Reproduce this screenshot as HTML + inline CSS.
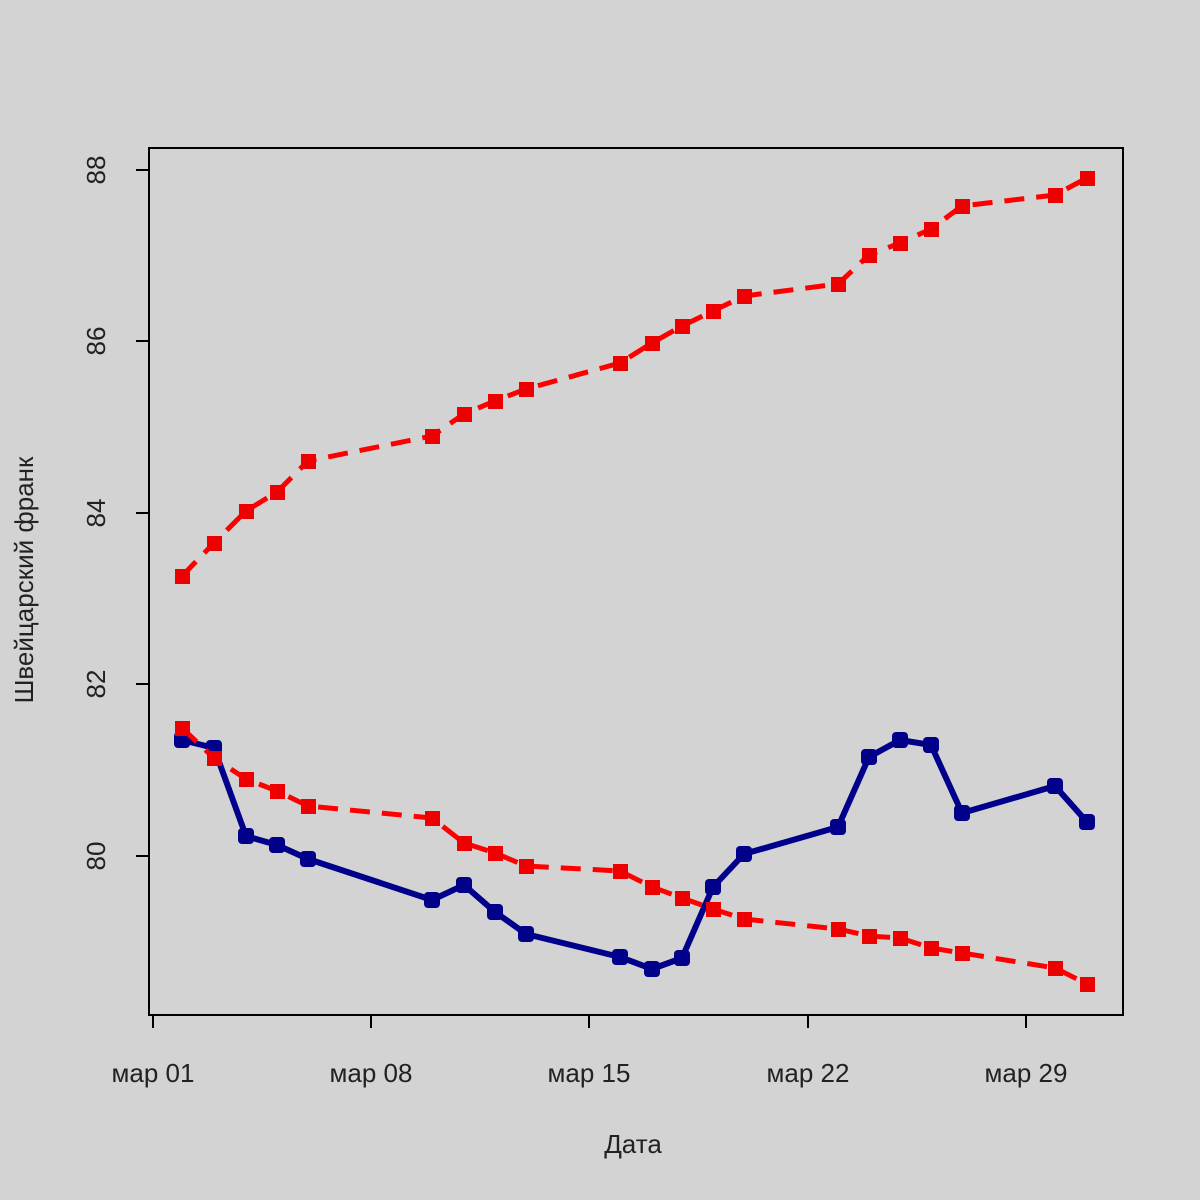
<!DOCTYPE html>
<html><head><meta charset="utf-8"><style>body{margin:0;background:#d3d3d3}svg{display:block}</style></head><body>
<svg width="1200" height="1200" xmlns="http://www.w3.org/2000/svg" font-family="Liberation Sans, sans-serif">
<rect width="1200" height="1200" fill="#d3d3d3"/>
<rect x="149" y="148" width="974" height="867" fill="none" stroke="#000" stroke-width="2"/>
<g stroke="#000" stroke-width="2">
<line x1="153" y1="1015" x2="1026" y2="1015"/>
<line x1="153" y1="1015" x2="153" y2="1028"/><line x1="371" y1="1015" x2="371" y2="1028"/><line x1="589" y1="1015" x2="589" y2="1028"/><line x1="808" y1="1015" x2="808" y2="1028"/><line x1="1026" y1="1015" x2="1026" y2="1028"/>
<line x1="149" y1="170" x2="149" y2="856"/>
<line x1="136" y1="170" x2="149" y2="170"/><line x1="136" y1="341" x2="149" y2="341"/><line x1="136" y1="513" x2="149" y2="513"/><line x1="136" y1="684" x2="149" y2="684"/><line x1="136" y1="856" x2="149" y2="856"/>
</g>
<g font-size="26" fill="#222" text-anchor="middle">
<text x="153" y="1082">мар 01</text><text x="371" y="1082">мар 08</text><text x="589" y="1082">мар 15</text><text x="808" y="1082">мар 22</text><text x="1026" y="1082">мар 29</text>
<text x="633" y="1153">Дата</text>
<text transform="translate(105,170) rotate(-90)">88</text>
<text transform="translate(105,341) rotate(-90)">86</text>
<text transform="translate(105,513) rotate(-90)">84</text>
<text transform="translate(105,684) rotate(-90)">82</text>
<text transform="translate(105,856) rotate(-90)">80</text>
<text transform="translate(33,580) rotate(-90)">Швейцарский франк</text>
</g>
<polyline fill="none" stroke="#00008b" stroke-width="6" stroke-linejoin="round" points="182,740 214,748 246,836 277,845 308,859 432,900 464,885 495,912 526,934 620,957 652,969 682,958 713,887 744,854 838,827 869,757 900,740 931,745 962,813 1055,786 1087,822"/>
<g fill="#00008b">
<rect x="174" y="732" width="16" height="16" rx="4"/><rect x="206" y="740" width="16" height="16" rx="4"/><rect x="238" y="828" width="16" height="16" rx="4"/><rect x="269" y="837" width="16" height="16" rx="4"/><rect x="300" y="851" width="16" height="16" rx="4"/><rect x="424" y="892" width="16" height="16" rx="4"/><rect x="456" y="877" width="16" height="16" rx="4"/><rect x="487" y="904" width="16" height="16" rx="4"/><rect x="518" y="926" width="16" height="16" rx="4"/><rect x="612" y="949" width="16" height="16" rx="4"/><rect x="644" y="961" width="16" height="16" rx="4"/><rect x="674" y="950" width="16" height="16" rx="4"/><rect x="705" y="879" width="16" height="16" rx="4"/><rect x="736" y="846" width="16" height="16" rx="4"/><rect x="830" y="819" width="16" height="16" rx="4"/><rect x="861" y="749" width="16" height="16" rx="4"/><rect x="892" y="732" width="16" height="16" rx="4"/><rect x="923" y="737" width="16" height="16" rx="4"/><rect x="954" y="805" width="16" height="16" rx="4"/><rect x="1047" y="778" width="16" height="16" rx="4"/><rect x="1079" y="814" width="16" height="16" rx="4"/>
</g>
<g fill="none" stroke="#ff0000" stroke-width="5" stroke-dasharray="20,12">
<polyline points="182,576 214,543 246,511 277,492 308,461 432,436 464,414 495,401 526,389 620,363 652,343 682,326 713,311 744,296 838,284 869,255 900,243 931,229 962,206 1055,195 1087,178"/>
<polyline points="182,728 214,758 246,779 277,791 308,806 432,818 464,843 495,853 526,866 620,871 652,887 682,898 713,909 744,919 838,929 869,936 900,938 931,948 962,953 1055,968 1087,984"/>
</g>
<g fill="#ee0000">
<rect x="175" y="569" width="15" height="15"/><rect x="207" y="536" width="15" height="15"/><rect x="239" y="504" width="15" height="15"/><rect x="270" y="485" width="15" height="15"/><rect x="301" y="454" width="15" height="15"/><rect x="425" y="429" width="15" height="15"/><rect x="457" y="407" width="15" height="15"/><rect x="488" y="394" width="15" height="15"/><rect x="519" y="382" width="15" height="15"/><rect x="613" y="356" width="15" height="15"/><rect x="645" y="336" width="15" height="15"/><rect x="675" y="319" width="15" height="15"/><rect x="706" y="304" width="15" height="15"/><rect x="737" y="289" width="15" height="15"/><rect x="831" y="277" width="15" height="15"/><rect x="862" y="248" width="15" height="15"/><rect x="893" y="236" width="15" height="15"/><rect x="924" y="222" width="15" height="15"/><rect x="955" y="199" width="15" height="15"/><rect x="1048" y="188" width="15" height="15"/><rect x="1080" y="171" width="15" height="15"/>
<rect x="175" y="721" width="15" height="15"/><rect x="207" y="751" width="15" height="15"/><rect x="239" y="772" width="15" height="15"/><rect x="270" y="784" width="15" height="15"/><rect x="301" y="799" width="15" height="15"/><rect x="425" y="811" width="15" height="15"/><rect x="457" y="836" width="15" height="15"/><rect x="488" y="846" width="15" height="15"/><rect x="519" y="859" width="15" height="15"/><rect x="613" y="864" width="15" height="15"/><rect x="645" y="880" width="15" height="15"/><rect x="675" y="891" width="15" height="15"/><rect x="706" y="902" width="15" height="15"/><rect x="737" y="912" width="15" height="15"/><rect x="831" y="922" width="15" height="15"/><rect x="862" y="929" width="15" height="15"/><rect x="893" y="931" width="15" height="15"/><rect x="924" y="941" width="15" height="15"/><rect x="955" y="946" width="15" height="15"/><rect x="1048" y="961" width="15" height="15"/><rect x="1080" y="977" width="15" height="15"/>
</g>
</svg>
</body></html>
